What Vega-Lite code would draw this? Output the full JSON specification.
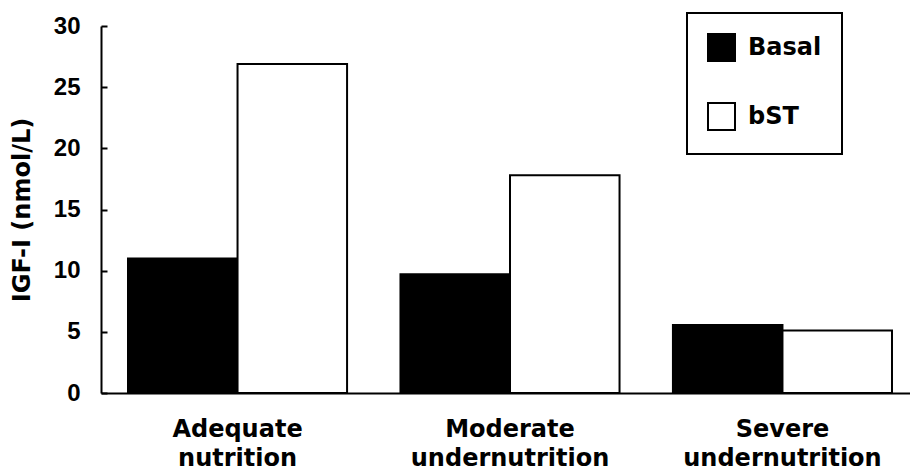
{
  "$schema": "https://vega.github.io/schema/vega-lite/v6.json",
  "autosize": "none",
  "width": 809,
  "height": 367,
  "padding": {"left": 101, "top": 26, "right": 0, "bottom": 82},
  "background": "white",
  "config": {"view": {"stroke": null}, "axis": {"grid": false}, "legend": {"strokeWidth": 2}},
  "data": {
    "values": [
      {"nutrition": "Adequate nutrition", "treatment": "Basal", "igf": 11.0},
      {"nutrition": "Adequate nutrition", "treatment": "bST", "igf": 26.9},
      {"nutrition": "Moderate undernutrition", "treatment": "Basal", "igf": 9.7},
      {"nutrition": "Moderate undernutrition", "treatment": "bST", "igf": 17.8},
      {"nutrition": "Severe undernutrition", "treatment": "Basal", "igf": 5.55},
      {"nutrition": "Severe undernutrition", "treatment": "bST", "igf": 5.1}
    ]
  },
  "mark": {"type": "bar", "stroke": "black", "strokeWidth": 2},
  "encoding": {
    "x": {
      "field": "nutrition",
      "type": "nominal",
      "sort": ["Adequate nutrition", "Moderate undernutrition", "Severe undernutrition"],
      "scale": {"paddingInner": 0.196, "paddingOuter": 0.0826, "align": 0.6},
      "axis": {
        "title": null,
        "domainColor": "black",
        "domainWidth": 2,
        "ticks": false,
        "labelAngle": 0,
        "labelFont": "DejaVu Sans",
        "labelFontWeight": "bold",
        "labelFontSize": 24,
        "labelColor": "black",
        "labelPadding": 24,
        "labelLimit": 0,
        "labelExpr": "split(datum.label, ' ')",
        "labelLineHeight": 29
      }
    },
    "xOffset": {
      "field": "treatment",
      "type": "nominal",
      "sort": ["Basal", "bST"],
      "scale": {"paddingInner": 0, "paddingOuter": 0}
    },
    "y": {
      "field": "igf",
      "type": "quantitative",
      "scale": {"domain": [0, 30]},
      "axis": {
        "title": "IGF-I (nmol/L)",
        "values": [0, 5, 10, 15, 20, 25, 30],
        "domainColor": "black",
        "domainWidth": 2,
        "tickColor": "black",
        "tickWidth": 2,
        "tickSize": -6,
        "labelFont": "Liberation Sans",
        "labelFontWeight": "bold",
        "labelFontSize": 24,
        "labelColor": "black",
        "labelPadding": 27,
        "titleFont": "DejaVu Sans",
        "titleFontSize": 24,
        "titleFontWeight": "bold",
        "titleColor": "black",
        "titlePadding": 19
      }
    },
    "fill": {
      "field": "treatment",
      "type": "nominal",
      "sort": ["Basal", "bST"],
      "scale": {"range": ["black", "white"]},
      "legend": {
        "title": null,
        "orient": "none",
        "legendX": 586,
        "legendY": -13,
        "direction": "vertical",
        "symbolType": "square",
        "symbolSize": 729,
        "symbolStrokeColor": "black",
        "symbolStrokeWidth": 2,
        "labelFont": "DejaVu Sans",
        "labelFontWeight": "bold",
        "labelFontSize": 24,
        "labelColor": "black",
        "labelOffset": 12,
        "rowPadding": 34,
        "padding": 20,
        "strokeColor": "black",
        "fillColor": "white"
      }
    }
  }
}
